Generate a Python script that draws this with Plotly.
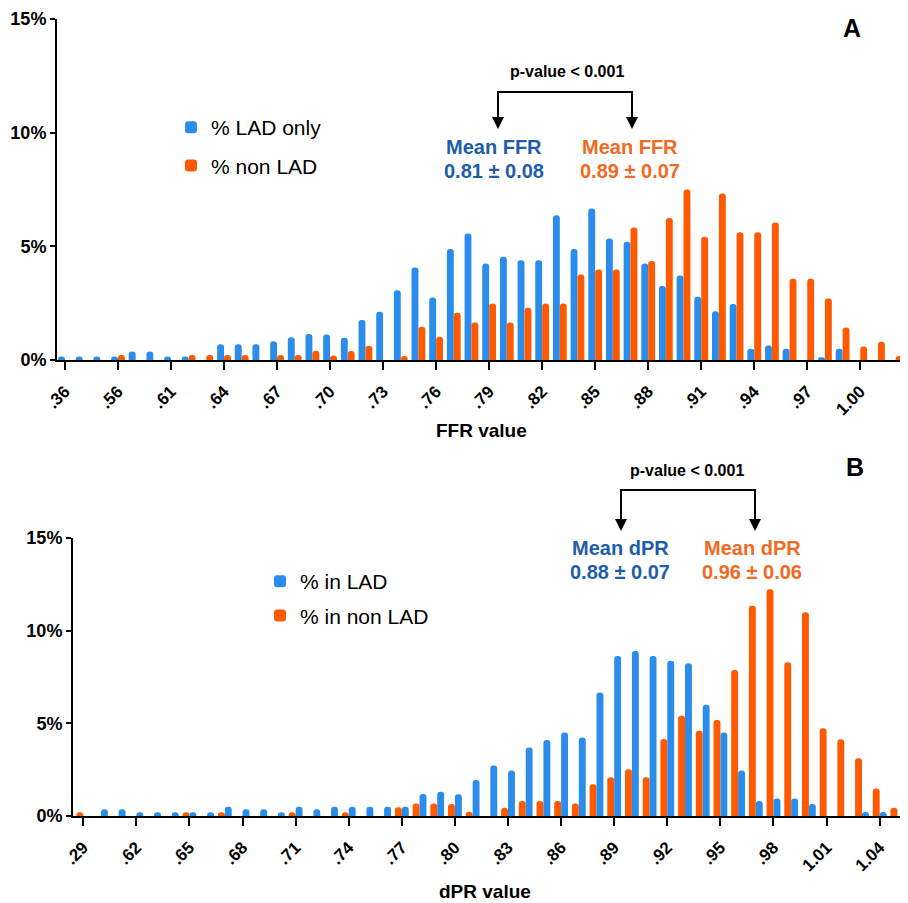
import plotly.graph_objects as go

# ---------------- DATA ----------------
ffr_categories = [".36", ".52", ".54", ".56", ".57", ".59", ".61", ".62", ".63", ".64", ".65", ".66",
                  ".67", ".68", ".69", ".70", ".71", ".72", ".73", ".74", ".75", ".76", ".77", ".78",
                  ".79", ".80", ".81", ".82", ".83", ".84", ".85", ".86", ".87", ".88", ".89", ".90",
                  ".91", ".92", ".93", ".94", ".95", ".96", ".97", ".98", ".99", "1.00", "1.01", "1.02"]
ffr_lad = [0.15, 0.15, 0.15, 0.15, 0.37, 0.37, 0.15, 0.15, 0, 0.69, 0.69, 0.69,
           0.83, 1.0, 1.14, 1.12, 0.98, 1.76, 2.12, 3.07, 4.07, 2.75, 4.88, 5.56,
           4.25, 4.54, 4.39, 4.39, 6.37, 4.88, 6.66, 5.34, 5.2, 4.25, 3.25, 3.72,
           2.78, 2.14, 2.46, 0.5, 0.64, 0.5, 0, 0.12, 0.5, 0, 0, 0]
ffr_nonlad = [0, 0, 0, 0.22, 0, 0, 0, 0.22, 0.22, 0.22, 0.22, 0,
              0.22, 0.22, 0.41, 0.2, 0.4, 0.63, 0, 0.18, 1.46, 1.02, 2.08, 1.65,
              2.49, 1.65, 2.30, 2.49, 2.49, 3.76, 3.98, 3.98, 5.83, 4.36, 6.25, 7.5,
              5.42, 7.32, 5.62, 5.62, 6.05, 3.57, 3.57, 2.7, 1.43, 0.59, 0.8, 0.18]
ffr_ticks = ffr_categories[::3]

dpr_categories = [".29", ".60", ".61", ".62", ".63", ".64", ".65", ".66", ".67", ".68", ".69", ".70",
                  ".71", ".72", ".73", ".74", ".75", ".76", ".77", ".78", ".79", ".80", ".81", ".82",
                  ".83", ".84", ".85", ".86", ".87", ".88", ".89", ".90", ".91", ".92", ".93", ".94",
                  ".95", ".96", ".97", ".98", ".99", "1.00", "1.01", "1.02", "1.03", "1.04", "1.05"]
dpr_lad = [0, 0.36, 0.36, 0.2, 0.2, 0.2, 0.2, 0.2, 0.5, 0.36, 0.36, 0.2,
           0.5, 0.36, 0.5, 0.5, 0.5, 0.5, 0.5, 1.19, 1.31, 1.17, 1.94, 2.72,
           2.45, 3.7, 4.1, 4.51, 4.23, 6.67, 8.63, 8.9, 8.63, 8.38, 8.24, 6.0,
           4.51, 2.45, 0.81, 0.95, 0.95, 0.65, 0, 0, 0.22, 0.22, 0]
dpr_nonlad = [0.2, 0, 0, 0, 0, 0, 0.2, 0, 0.2, 0, 0, 0,
              0.2, 0, 0, 0.2, 0, 0, 0.47, 0.68, 0.68, 0.65, 0.23, 0,
              0.45, 0.81, 0.81, 0.81, 0.68, 1.71, 2.09, 2.52, 2.09, 4.15, 5.41, 4.6,
              5.18, 7.88, 11.35, 12.23, 8.29, 10.99, 4.73, 4.14, 3.11, 1.49, 0.45]
dpr_ticks = dpr_categories[::3]

y_ticks = [0, 5, 10, 15]
y_ticktext = ["0%", "5%", "10%", "15%"]

# ---------------- STYLE ----------------
W, H = 908, 903
OFF = 8  # page body margin offset
BLUE = "#2B8DEB"
ORANGE = "#FF5A00"
BLUE_TXT = "#1E5DAA"
ORANGE_TXT = "#F26A1F"
FONT = "Liberation Sans, Arial, sans-serif"


def px(x):
    return (x - OFF) / W


def py(y):
    return 1 - (y - OFF) / H


fig = go.Figure()

# Panel A
fig.add_trace(go.Bar(x=ffr_categories, y=ffr_lad, name="% LAD only", marker_color=BLUE,
                     xaxis="x", yaxis="y", legend="legend", legendgroup="a1", offsetgroup="a1"))
fig.add_trace(go.Bar(x=ffr_categories, y=ffr_nonlad, name="% non LAD", marker_color=ORANGE,
                     xaxis="x", yaxis="y", legend="legend", legendgroup="a2", offsetgroup="a2"))
# Panel B (orange drawn on the left of each pair)
fig.add_trace(go.Bar(x=dpr_categories, y=dpr_nonlad, name="% in non LAD", marker_color=ORANGE,
                     xaxis="x2", yaxis="y2", legend="legend2", legendgroup="b2", legendrank=2,
                     offsetgroup="b2"))
fig.add_trace(go.Bar(x=dpr_categories, y=dpr_lad, name="% in LAD", marker_color=BLUE,
                     xaxis="x2", yaxis="y2", legend="legend2", legendgroup="b1", legendrank=1,
                     offsetgroup="b1"))

fig.update_traces(marker_line_width=0)

axis_common = dict(showline=True, linecolor="black", linewidth=2, ticks="outside",
                   tickcolor="black", tickwidth=2, showgrid=False, zeroline=False,
                   automargin=False)
xfont = dict(family=FONT, size=17, color="black", weight="bold")
yfont = dict(family=FONT, size=18, color="black", weight="bold")

fig.update_layout(
    width=W, height=H,
    margin=dict(l=0, r=0, t=0, b=0, autoexpand=False),
    paper_bgcolor="white", plot_bgcolor="white",
    font=dict(family=FONT, color="black"),
    barmode="group", bargap=0.22, bargroupgap=0.0, barcornerradius=3,
    xaxis=dict(domain=[px(57), px(908)], anchor="y", type="category",
               categoryorder="array", categoryarray=ffr_categories,
               range=[-0.45, 47.7], tickmode="array", tickvals=ffr_ticks, ticktext=ffr_ticks,
               tickangle=-45, ticklen=8, ticklabelstandoff=5, tickfont=xfont, **axis_common),
    yaxis=dict(domain=[py(360), py(19)], anchor="x", range=[0, 15],
               tickmode="array", tickvals=y_ticks, ticktext=y_ticktext, ticklen=5,
               tickfont=yfont, **axis_common),
    xaxis2=dict(domain=[px(73), px(908)], anchor="y2", type="category",
                categoryorder="array", categoryarray=dpr_categories,
                range=[-0.58, 46.6], tickmode="array", tickvals=dpr_ticks, ticktext=dpr_ticks,
                tickangle=-45, ticklen=8, ticklabelstandoff=5, tickfont=xfont, **axis_common),
    yaxis2=dict(domain=[py(816), py(538)], anchor="x2", range=[0, 15],
                tickmode="array", tickvals=y_ticks, ticktext=y_ticktext, ticklen=5,
                tickfont=yfont, **axis_common),
    legend=dict(x=px(171), y=py(107), xanchor="left", yanchor="top",
                font=dict(family=FONT, size=21, color="black"),
                bgcolor="rgba(0,0,0,0)", tracegroupgap=8, traceorder="grouped"),
    legend2=dict(x=px(260), y=py(561), xanchor="left", yanchor="top",
                 font=dict(family=FONT, size=21, color="black"),
                 bgcolor="rgba(0,0,0,0)", tracegroupgap=4, traceorder="grouped"),
)

annotations = []
shapes = []


def label(x, y, text, size, color="black"):
    annotations.append(dict(x=px(x), y=py(y), xref="paper", yref="paper", text=text,
                            showarrow=False, xanchor="center", yanchor="middle",
                            font=dict(family=FONT, size=size, color=color)))


def bracket(x1, x2, ytop, ybot):
    shapes.append(dict(type="path", xref="paper", yref="paper",
                       path=f"M{px(x1)},{py(ybot - 8)} L{px(x1)},{py(ytop)} L{px(x2)},{py(ytop)} L{px(x2)},{py(ybot - 8)}",
                       line=dict(color="black", width=2)))
    for xx in (x1, x2):
        annotations.append(dict(x=px(xx), y=py(ybot), xref="paper", yref="paper",
                                ax=0, ay=-14, axref="pixel", ayref="pixel", text="",
                                showarrow=True, arrowhead=2, arrowsize=1.2, arrowwidth=2,
                                arrowcolor="black"))


# Axis titles
label(481, 430, "<b>FFR value</b>", 19)
label(485, 891, "<b>dPR value</b>", 19)

# Panel A annotations
label(852, 28, "<b>A</b>", 25)
label(567, 72, "<b>p-value &lt; 0.001</b>", 16)
bracket(498, 632, 92, 129)
label(494, 147, "<b>Mean FFR</b>", 20, BLUE_TXT)
label(494, 171, "<b>0.81 ± 0.08</b>", 20, BLUE_TXT)
label(630, 147, "<b>Mean FFR</b>", 20, ORANGE_TXT)
label(630, 171, "<b>0.89 ± 0.07</b>", 20, ORANGE_TXT)

# Panel B annotations
label(855, 467, "<b>B</b>", 25)
label(687, 470, "<b>p-value &lt; 0.001</b>", 16)
bracket(621, 755, 490, 531)
label(620, 548, "<b>Mean dPR</b>", 20, BLUE_TXT)
label(620, 572, "<b>0.88 ± 0.07</b>", 20, BLUE_TXT)
label(752, 548, "<b>Mean dPR</b>", 20, ORANGE_TXT)
label(752, 572, "<b>0.96 ± 0.06</b>", 20, ORANGE_TXT)

fig.update_layout(annotations=annotations, shapes=shapes)

fig.write_html("out.html")
